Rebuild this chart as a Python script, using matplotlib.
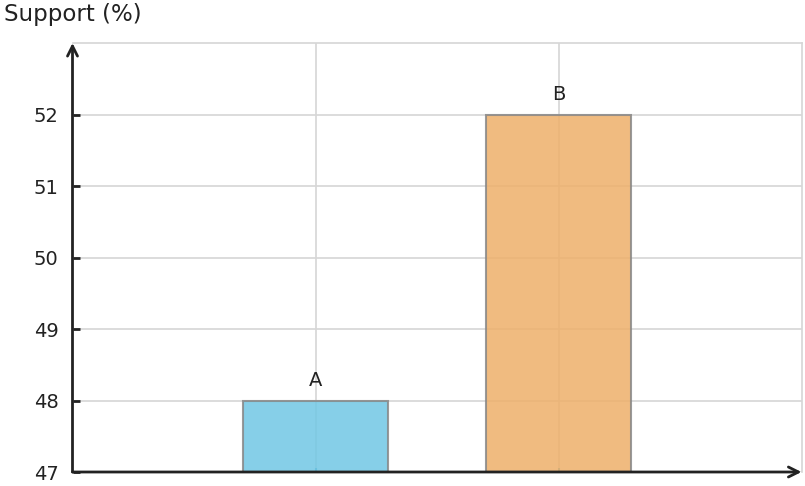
import matplotlib.pyplot as plt

categories = ["A", "B"]
support = [48, 52]
bar_colors = ["#71c7e4", "#eeb06a"]
y_ticks = [47, 48, 49, 50, 51, 52]

fig = plt.figure(figsize=(8.05, 4.86), dpi=100)
ax = fig.add_axes([72.5 / 805, 14 / 486, 729 / 805, 429 / 486])

x = list(range(len(categories)))
ax.bar(x, [v - 47 for v in support], bottom=47, width=0.6, color=bar_colors,
       alpha=0.85, edgecolor="#888888", linewidth=1.5, zorder=3)
for xi, v, c in zip(x, support, categories):
    ax.text(xi, v + 0.14, c, ha="center", va="bottom", fontsize=14, color="#222222")

ax.set_xlim(-1, 2)
ax.set_ylim(47, 53)
ax.set_xticks(x)
ax.set_xticklabels(["", ""])
ax.set_yticks(y_ticks)
ax.tick_params(axis="y", direction="in", length=5, width=2, labelsize=14,
               colors="#222222", pad=10)
ax.tick_params(axis="x", direction="in", length=3, width=1.5, colors="#4aa6c4")
ax.grid(True, color="#d6d6d6", linewidth=1.2, zorder=0)
ax.set_axisbelow(True)

for s in ["left", "bottom"]:
    ax.spines[s].set_visible(False)
for s in ["top", "right"]:
    ax.spines[s].set_color("#d6d6d6")
    ax.spines[s].set_linewidth(1.2)

arrow = dict(arrowstyle="->", color="#222222", lw=2, mutation_scale=18,
             shrinkA=0, shrinkB=0)
ax.annotate("", xy=(0, 1), xytext=(0, 0), xycoords="axes fraction",
            arrowprops=arrow, zorder=5)
ax.annotate("", xy=(1, 0), xytext=(0, 0), xycoords="axes fraction",
            arrowprops=arrow, zorder=5)

fig.text(4 / 805, 1 - 14 / 486, "Support (%)", fontsize=16.5, color="#222222",
         ha="left", va="center")

fig.savefig("out.png", dpi=100)
